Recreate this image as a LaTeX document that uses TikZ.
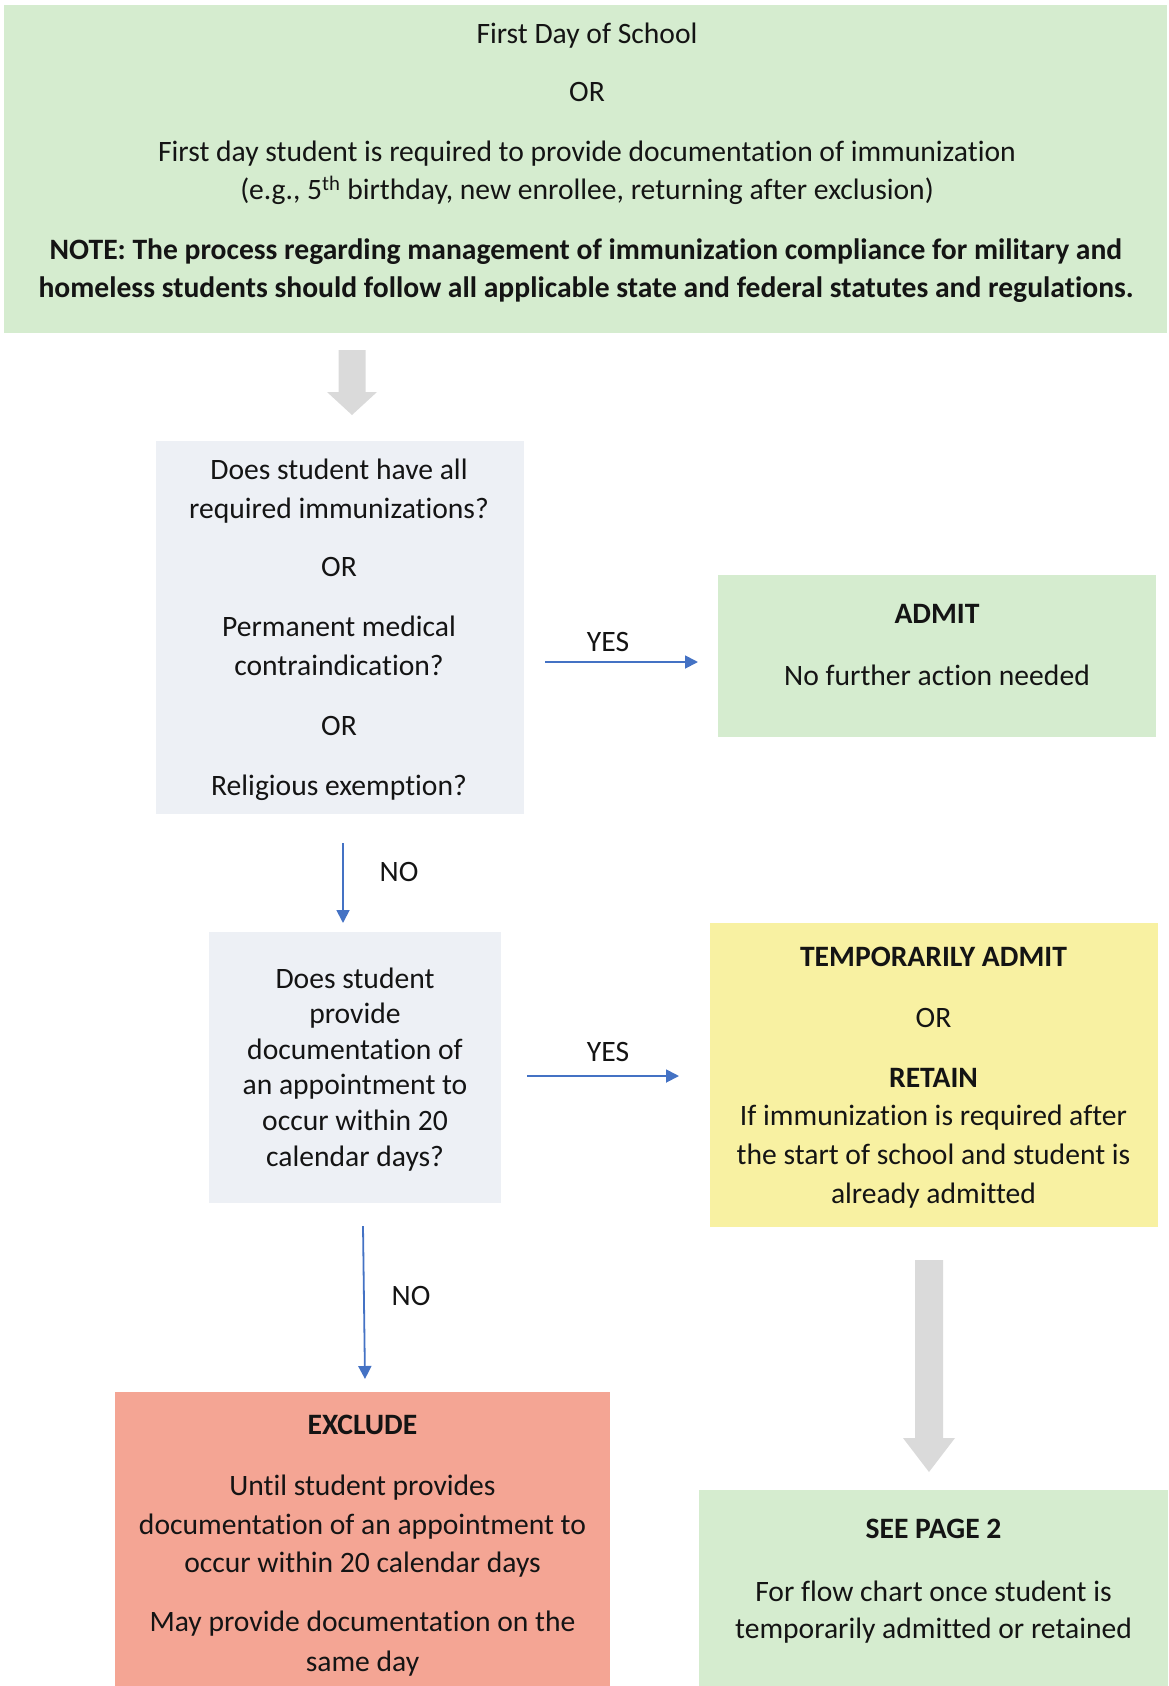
\documentclass[tikz,border=0pt]{standalone}
\usepackage{fontspec}
\setmainfont{Carlito}[Ligatures={NoCommon}]
\usetikzlibrary{arrows.meta}
\definecolor{boxgreen}{HTML}{D5ECCF}
\definecolor{boxgrey}{HTML}{EDF0F5}
\definecolor{boxyellow}{HTML}{F8F1A2}
\definecolor{boxsalmon}{HTML}{F4A594}
\definecolor{flowblue}{HTML}{4472C4}
\definecolor{bigarrow}{HTML}{DADADA}
\definecolor{ink}{HTML}{141414}
\begin{document}
\begin{tikzpicture}[x=1pt,y=-1pt,
  panel/.style={draw=none,inner sep=0pt,anchor=center},
  txt/.style={anchor=mid,inner sep=0pt,text=ink,font=\fontsize{29.6}{35}\selectfont,yshift=-7pt},
  btxt/.style={txt,font=\fontsize{29.6}{35}\selectfont\bfseries},
  flow/.style={draw=flowblue,line width=1.8pt,-{Triangle[length=13pt,width=13pt]}}
]
\useasboundingbox (0,0) rectangle (1168,1686);
% boxes
\node[panel,fill=boxgreen,minimum width=1163pt,minimum height=328pt] (top) at (585,169) {};
\node[panel,fill=boxgrey,minimum width=368pt,minimum height=373pt] (q1) at (340,627) {};
\node[panel,fill=boxgreen,minimum width=438pt,minimum height=162pt] (admit) at (937,656) {};
\node[panel,fill=boxgrey,minimum width=292pt,minimum height=271pt] (q2) at (355,1067) {};
\node[panel,fill=boxyellow,minimum width=448pt,minimum height=304pt] (temp) at (934,1075) {};
\node[panel,fill=boxsalmon,minimum width=495pt,minimum height=295pt] (excl) at (362.5,1539) {};
\node[panel,fill=boxgreen,minimum width=469pt,minimum height=197pt] (see) at (933.5,1588) {};

% texts top
\node[txt] (t1) at (587,34) {First Day of School};
\node[txt] (t2) at (587,92) {OR};
\node[txt] (t3) at (587,152) {First day student is required to provide documentation of immunization};
\node[txt] (t4) at (587,190) {(e.g., 5\textsuperscript{th} birthday, new enrollee, returning after exclusion)};
\node[btxt] (t5) at (586,250) {NOTE: The process regarding management of immunization compliance for military and};
\node[btxt] (t6) at (586,288) {homeless students should follow all applicable state and federal statutes and regulations.};

% q1
\node[txt] (a1) at (339,470) {Does student have all};
\node[txt] (a2) at (339,509) {required immunizations?};
\node[txt] (a3) at (339,567) {OR};
\node[txt] (a4) at (339,627) {Permanent medical};
\node[txt] (a5) at (339,666) {contraindication?};
\node[txt] (a6) at (339,726) {OR};
\node[txt] (a7) at (339,786) {Religious exemption?};

% admit
\node[btxt] (b1) at (937,614) {ADMIT};
\node[txt] (b2) at (937,676) {No further action needed};

% q2
\node[txt] (c1) at (355,979) {Does student};
\node[txt] (c2) at (355,1014) {provide};
\node[txt] (c3) at (355,1050) {documentation of};
\node[txt] (c4) at (355,1085) {an appointment to};
\node[txt] (c5) at (355,1121) {occur within 20};
\node[txt] (c6) at (355,1157) {calendar days?};

% temp
\node[btxt] (d1) at (933.5,957) {TEMPORARILY ADMIT};
\node[txt] (d2) at (933.5,1018) {OR};
\node[btxt] (d3) at (933.5,1078) {RETAIN};
\node[txt] (d4) at (933.5,1116) {If immunization is required after};
\node[txt] (d5) at (933.5,1155) {the start of school and student is};
\node[txt] (d6) at (933.5,1194) {already admitted};

% exclude
\node[btxt] (e1) at (362.5,1425) {EXCLUDE};
\node[txt] (e2) at (362.5,1486) {Until student provides};
\node[txt] (e3) at (362.5,1525) {documentation of an appointment to};
\node[txt] (e4) at (362.5,1563) {occur within 20 calendar days};
\node[txt] (e5) at (362.5,1622) {May provide documentation on the};
\node[txt] (e6) at (362.5,1662) {same day};

% see page 2
\node[btxt] (f1) at (933.5,1529) {SEE PAGE 2};
\node[txt] (f2) at (933.5,1592) {For flow chart once student is};
\node[txt] (f3) at (933.5,1629) {temporarily admitted or retained};

% big grey arrows
\fill[bigarrow] (338.5,350) -- (365.5,350) -- (365.5,392) -- (377,392) -- (352,415) -- (327,392) -- (338.5,392) -- cycle;
\fill[bigarrow] (915,1260) -- (943,1260) -- (943,1438) -- (955,1438) -- (929,1472) -- (903,1438) -- (915,1438) -- cycle;

% blue connectors
\coordinate (y1s) at (545,662);
\coordinate (y1e) at (698,662);
\coordinate (n1s) at (343,843);
\coordinate (n1e) at (343,923);
\coordinate (y2s) at (527,1076);
\coordinate (y2e) at (679,1076);
\coordinate (n2s) at (363,1226);
\coordinate (n2e) at (365,1379);
\draw[flow] (y1s) -- (y1e);
\draw[flow] (n1s) -- (n1e);
\draw[flow] (y2s) -- (y2e);
\draw[flow] (n2s) -- (n2e);

% labels
\node[txt] (l1) at (608,642) {YES};
\node[txt] (l2) at (399,872) {NO};
\node[txt] (l3) at (608,1052) {YES};
\node[txt] (l4) at (411,1296) {NO};
\end{tikzpicture}
\end{document}
